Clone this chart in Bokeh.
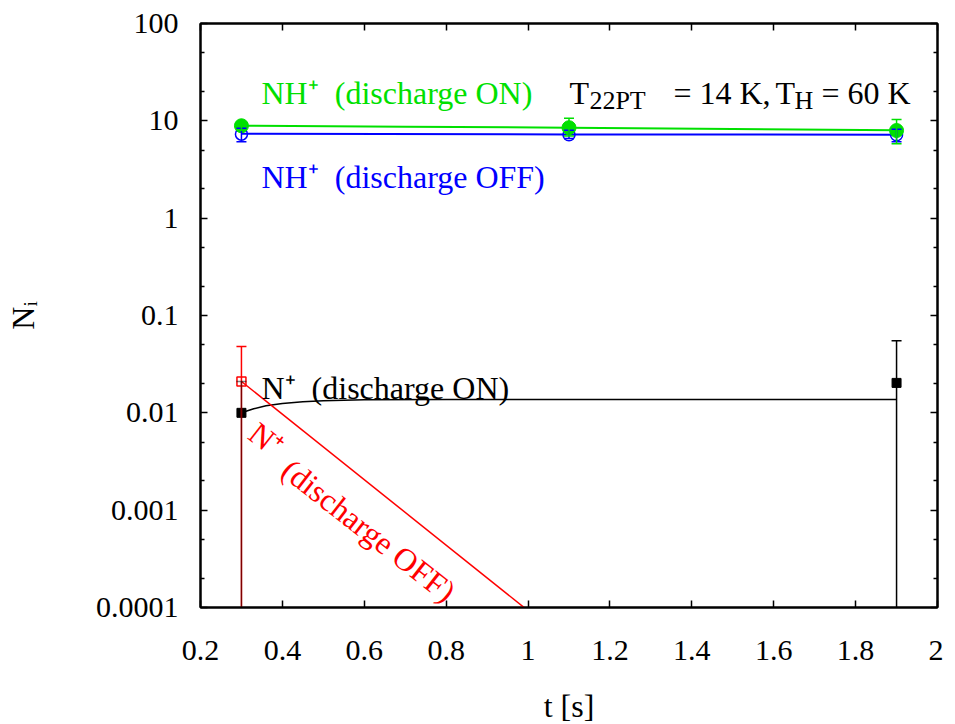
from bokeh.plotting import figure
from bokeh.models import (ColumnDataSource, Whisker, TeeHead, FixedTicker,
                          LinearAxis, LogAxis, Range1d)
from bokeh.core.properties import value
from bokeh.embed import file_html
from bokeh.resources import INLINE

# ---------------- data ----------------
t_pts = [0.3, 1.1, 1.9]
nh_on = [8.9, 8.5, 7.95]
nh_on_hi = [9.7, 10.6, 10.3]
nh_on_lo = [8.0, 7.0, 5.8]
nh_off = [7.3, 7.2, 7.2]
nh_off_hi = [8.4, 8.0, 8.2]
nh_off_lo = [6.1, 6.6, 6.1]

n_on_t = [0.3, 1.9]
n_on = [0.0100, 0.0203]
n_on_hi = [0.021, 0.055]
n_on_lo = [1e-6, 1e-6]

n_off_t = [0.3]
n_off = [0.021]
n_off_hi = [0.048]
n_off_lo = [1e-6]

fit_nh_on_t = [0.3, 0.7, 1.1, 1.5, 1.9]
fit_nh_on = [8.9, 8.7, 8.5, 8.25, 8.0]
fit_nh_off_t = [0.3, 1.1, 1.9]
fit_nh_off = [7.35, 7.25, 7.2]
fit_n_on_t = [0.3, 0.33, 0.36, 0.4, 0.45, 0.5, 0.6, 0.8, 1.2, 1.9]
fit_n_on = [0.0100, 0.0110, 0.0118, 0.0125, 0.0130, 0.0133, 0.0136, 0.0137, 0.0137, 0.0137]
fit_n_off_t = [0.3, 1.05]
fit_n_off = [0.021, 6.3e-5]

x_ticks = [0.2, 0.4, 0.6, 0.8, 1.0, 1.2, 1.4, 1.6, 1.8, 2.0]
x_tick_labels = ["0.2", "0.4", "0.6", "0.8", "1", "1.2", "1.4", "1.6", "1.8", "2"]
y_ticks = [0.0001, 0.001, 0.01, 0.1, 1, 10, 100]
y_tick_labels = ["0.0001", "0.001", "0.01", "0.1", "1", "10", "100"]
y_minor = [0.0002, 0.0005, 0.002, 0.005, 0.02, 0.05, 0.2, 0.5, 2, 5, 20, 50]

GREEN = "#00e000"
BLUE = "#0000ff"
RED = "#ff0000"
BLACK = "#000000"
FONT = "Liberation Serif"
FS_TICK = "30px"
FS = "32px"
FS_SUB = "26px"

p = figure(x_range=Range1d(0.2, 2.0), y_range=Range1d(1e-4, 100),
           y_axis_type="log", frame_width=737, frame_height=584,
           min_border_left=200, min_border_top=23, min_border_bottom=110,
           min_border_right=6, output_backend="svg", toolbar_location=None)
p.grid.visible = False
p.outline_line_color = "black"
p.outline_line_width = 2
p.background_fill_color = "white"
p.border_fill_color = "white"

xticker = FixedTicker(ticks=x_ticks, minor_ticks=[])
yticker = FixedTicker(ticks=y_ticks, minor_ticks=y_minor)


def style(ax):
    ax.major_tick_in = 7
    ax.major_tick_out = 0
    ax.minor_tick_in = 4
    ax.minor_tick_out = 0
    ax.axis_line_width = 2
    ax.major_tick_line_width = 1.5
    ax.minor_tick_line_width = 1.5
    ax.major_label_text_font = FONT
    ax.major_label_text_font_size = FS_TICK
    ax.major_label_text_color = "black"
    ax.axis_label_text_font = FONT
    ax.axis_label_text_font_size = FS
    ax.axis_label_text_font_style = "normal"
    ax.axis_label_text_color = "black"


xa = p.xaxis[0]
xa.ticker = xticker
xa.major_label_overrides = dict(zip(x_ticks, x_tick_labels))
xa.major_label_standoff = 33
xa.axis_label = "t [s]"
xa.axis_label_standoff = 25
style(xa)

ya = p.yaxis[0]
ya.ticker = yticker
ya.major_label_overrides = dict(zip(y_ticks, y_tick_labels))
ya.major_label_standoff = 22
ya.axis_label = "N\u1d62"
ya.axis_label_standoff = 52
style(ya)

top_ax = LinearAxis(ticker=xticker)
style(top_ax)
top_ax.major_label_text_font_size = "0px"
top_ax.major_label_standoff = 0
top_ax.major_label_overrides = {t: "" for t in x_ticks}
p.add_layout(top_ax, "above")

right_ax = LogAxis(ticker=yticker)
style(right_ax)
right_ax.major_label_text_font_size = "0px"
right_ax.major_label_standoff = 0
right_ax.major_label_overrides = {t: "" for t in y_ticks}
p.add_layout(right_ax, "right")

# ---------------- fit curves ----------------
p.line(fit_nh_off_t, fit_nh_off, line_color=BLUE, line_width=2)
p.line(fit_nh_on_t, fit_nh_on, line_color=GREEN, line_width=2)
p.line(fit_n_on_t, fit_n_on, line_color=BLACK, line_width=1.5)
p.line(fit_n_off_t, fit_n_off, line_color=RED, line_width=1.5)


def errbars(t, hi, lo, color, alpha=1.0):
    src = ColumnDataSource(dict(t=t, hi=hi, lo=lo))
    w = Whisker(source=src, base="t", upper="hi", lower="lo",
                line_color=color, line_width=1.5, line_alpha=alpha,
                upper_head=TeeHead(size=10, line_color=color, line_width=1.5,
                                   line_alpha=alpha),
                lower_head=TeeHead(size=10, line_color=color, line_width=1.5,
                                   line_alpha=alpha))
    w.level = "glyph"
    p.add_layout(w)


errbars(n_on_t[1:], n_on_hi[1:], n_on_lo[1:], BLACK)
errbars(n_off_t, n_off_hi, n_off_lo, RED)
errbars(n_on_t[:1], n_on_hi[:1], n_on_lo[:1], BLACK, alpha=0.5)
errbars(t_pts, nh_off_hi, nh_off_lo, BLUE)
errbars(t_pts, nh_on_hi, nh_on_lo, GREEN)

# ---------------- markers ----------------
p.scatter(t_pts, nh_off, marker="circle", size=12, fill_color=None,
          line_color=BLUE, line_width=1.5)
p.scatter(t_pts, nh_on, marker="circle", size=14, fill_color=GREEN,
          line_color=GREEN)
p.scatter(n_on_t, n_on, marker="square", size=9, fill_color=BLACK,
          line_color=BLACK)
p.scatter(n_off_t, n_off, marker="square", size=9, fill_color=None,
          line_color=RED, line_width=1.5)

# ---------------- annotations ----------------
lbl_x = 0.349
SP = "\u00a0\u00a0"


def txt(x, y, s, color, size=FS, align="left", baseline="alphabetic",
        angle=0.0, xo=0, yo=0):
    p.text(x=[x], y=[y], text=[s], text_color=color,
           text_font=value(FONT), text_font_size=value(size),
           text_align=align, text_baseline=baseline, angle=angle,
           x_offset=xo, y_offset=yo)


txt(lbl_x, 19.1, "NH\u207a" + SP + "(discharge ON)", GREEN)
txt(lbl_x, 2.62, "NH\u207a" + SP + "(discharge OFF)", BLUE)
txt(lbl_x, 0.0178, "N\u207a" + SP + "(discharge ON)", BLACK)

tx = 1.101
ty = 19.1
txt(tx, ty, "T", BLACK)
txt(tx, ty, "22PT", BLACK, size=FS_SUB, xo=20, yo=7)
txt(tx, ty, "= 14 K,", BLACK, xo=104)
txt(tx, ty, "T", BLACK, xo=206)
txt(tx, ty, "H", BLACK, size=FS_SUB, xo=225, yo=7)
txt(tx, ty, "= 60 K", BLACK, xo=252)

ang = -0.663
txt(0.361, 0.00532, "N\u207a", RED, align="center", baseline="middle", angle=ang)
txt(0.611, 6.2e-4, "(discharge OFF)", RED, align="center", baseline="middle", angle=ang)

open("out.html", "w").write(file_html(p, INLINE))
